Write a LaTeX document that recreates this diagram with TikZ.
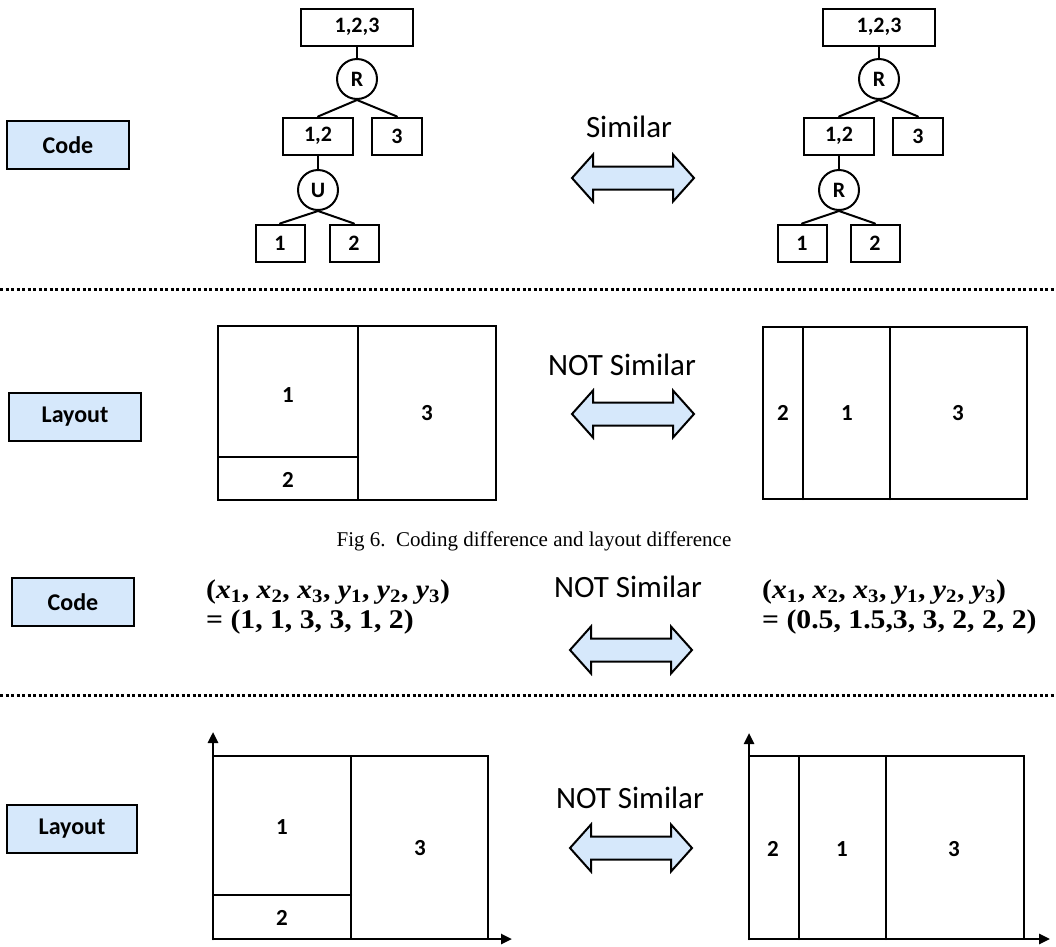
\documentclass[tikz,border=0pt]{standalone}
\usepackage{fontspec}
\setmainfont{Liberation Serif}
\newfontfamily\calib{Carlito}
\newfontfamily\formfont[FakeStretch=1.1]{Liberation Serif}
\usetikzlibrary{arrows.meta}
\definecolor{boxblue}{RGB}{214,232,251}
\newcommand\xsub[1]{\textit{x}\textsubscript{#1}}
\newcommand\ysub[1]{\textit{y}\textsubscript{#1}}
\tikzset{
  rowlabel/.style={draw, line width=2.5pt, fill=boxblue, minimum width=122, minimum height=48,
    font=\calib\bfseries\fontsize{24}{28}\selectfont},
  tbox/.style={draw, line width=2pt, minimum height=37, inner sep=0,
    font=\calib\bfseries\fontsize{22}{24}\selectfont},
  opnode/.style={circle, draw, line width=2pt, minimum size=40, inner sep=0,
    font=\calib\bfseries\fontsize{22}{24}\selectfont},
  edge/.style={line width=2pt},
  plan/.style={line width=2pt, line join=miter},
  axis/.style={line width=2.5pt, -{Triangle[length=11pt,width=10pt]}},
  cell/.style={font=\calib\bfseries\fontsize{23}{26}\selectfont},
  simtext/.style={font=\calib\fontsize{31}{36}\selectfont},
  formula/.style={align=left, inner sep=0, font=\formfont\bfseries\fontsize{27}{30}\selectfont},
  sep/.style={line width=3pt, line cap=butt, dash pattern=on 3pt off 2.5pt},
  dblarrow/.pic={
    \draw[line width=2pt, fill=boxblue, line join=miter]
      (-61,0) -- (-40,-23.5) -- (-40,-11.5) -- (40,-11.5) -- (40,-23.5) -- (61,0)
      -- (40,23.5) -- (40,11.5) -- (-40,11.5) -- (-40,23.5) -- cycle;
  }
}
\begin{document}
\begin{tikzpicture}[x=1pt, y=-1pt, line cap=round]
  \useasboundingbox (0,0) rectangle (1056,946);

  % row 1: code trees
  \node[rowlabel] (codea) at (68,145) {Code};
  \node[tbox, minimum width=112] (ra) at (357,27) {1,2,3};
  \node[opnode] (ora) at (357,79) {R};
  \node[tbox, minimum width=70] (la) at (318,136) {1,2};
  \node[tbox, minimum width=50] (ta) at (397,136) {3};
  \node[opnode] (oua) at (318,190) {U};
  \node[tbox, minimum width=49] (onea) at (280,243) {1};
  \node[tbox, minimum width=49] (twoa) at (354,243) {2};
  \draw[edge] (ra) -- (ora);
  \draw[edge] (ora.south) -- (la.north) (ora.south) -- (ta.north);
  \draw[edge] (la) -- (oua);
  \draw[edge] (oua.south) -- (onea.north) (oua.south) -- (twoa.north);

  \node[simtext] (sim) at (629,127) {Similar};
  \pic at (633,178) {dblarrow};

  \node[tbox, minimum width=112] (rb) at (879,27) {1,2,3};
  \node[opnode] (orb) at (879,79) {R};
  \node[tbox, minimum width=70] (lb) at (839,136) {1,2};
  \node[tbox, minimum width=50] (tb) at (918,136) {3};
  \node[opnode] (orb2) at (839,190) {R};
  \node[tbox, minimum width=49] (oneb) at (802,243) {1};
  \node[tbox, minimum width=49] (twob) at (875,243) {2};
  \draw[edge] (rb) -- (orb);
  \draw[edge] (orb.south) -- (lb.north) (orb.south) -- (tb.north);
  \draw[edge] (lb) -- (orb2);
  \draw[edge] (orb2.south) -- (oneb.north) (orb2.south) -- (twob.north);

  \draw[sep] (0,289) -- (1056,289);

  % row 2: layouts
  \node[rowlabel, minimum width=132] (laya) at (75,417) {Layout};
  \draw[plan] (218,326) rectangle (358,500) (358,326) rectangle (496,500) (218,457) -- (358,457);
  \node[cell] (ca1) at (288,395) {1};
  \node[cell] (ca2) at (288,480) {2};
  \node[cell] (ca3) at (427,413) {3};

  \node[simtext] (nsa) at (622,365) {NOT Similar};
  \pic at (633,414) {dblarrow};

  \draw[plan] (763,327) rectangle (1027,499) (803,327) -- (803,499) (890,327) -- (890,499);
  \node[cell] (cb2) at (783,413) {2};
  \node[cell] (cb1) at (847,413) {1};
  \node[cell] (cb3) at (958,413) {3};

  \node (cap) at (534,541) {\fontsize{21}{24}\selectfont Fig 6.\ \ Coding difference and layout difference};

  % row 3: coordinates
  \node[rowlabel] (codeb) at (73,602) {Code};
  \node[formula, anchor=west] (fa) at (206,607) {(\xsub1, \xsub2, \xsub3, \ysub1, \ysub2, \ysub3)\\= (1, 1, 3, 3, 1, 2)};
  \node[simtext] (nsb) at (628,587) {NOT Similar};
  \pic at (631,650) {dblarrow};
  \node[formula, anchor=west] (fb) at (762,607) {(\xsub1, \xsub2, \xsub3, \ysub1, \ysub2, \ysub3)\\= (0.5, 1.5,3, 3, 2, 2, 2)};

  \draw[sep] (0,695) -- (1056,695);

  % row 4: layouts on axes
  \node[rowlabel, minimum width=130] (layb) at (72,829) {Layout};
  \draw[plan] (213,756) rectangle (351,939) (351,756) rectangle (488,939) (213,895) -- (351,895);
  \draw[axis] (213,939) -- (213,732);
  \draw[axis] (213,939) -- (512,939);
  \node[cell] (da1) at (282,827) {1};
  \node[cell] (da2) at (282,918) {2};
  \node[cell] (da3) at (420,848) {3};

  \node[simtext] (nsc) at (630,798) {NOT Similar};
  \pic at (631,848) {dblarrow};

  \draw[plan] (749,756) rectangle (1024,939) (799,756) -- (799,939) (886,756) -- (886,939);
  \draw[axis] (749,939) -- (749,733);
  \draw[axis] (749,939) -- (1050,939);
  \node[cell] (db2) at (773,849) {2};
  \node[cell] (db1) at (842,849) {1};
  \node[cell] (db3) at (954,849) {3};
\end{tikzpicture}
\end{document}
